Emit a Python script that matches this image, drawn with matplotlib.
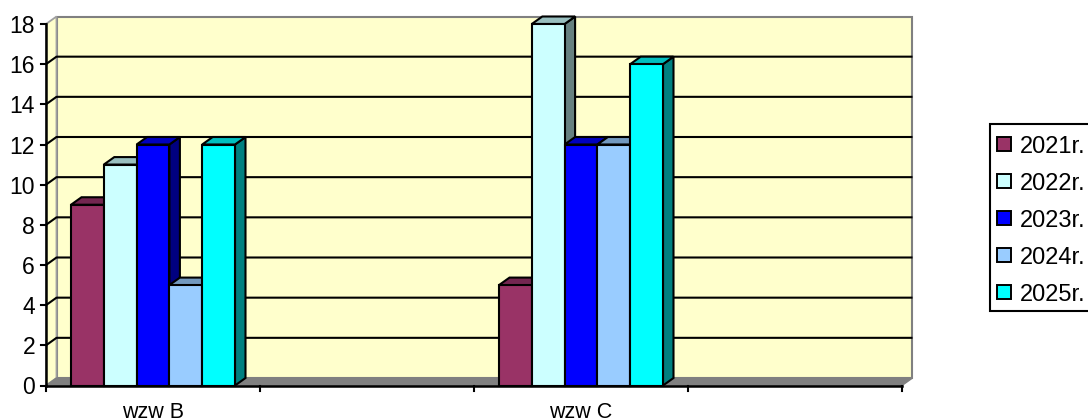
import matplotlib
matplotlib.use('Agg')
import matplotlib.pyplot as plt
from matplotlib.patches import Polygon, Rectangle

plt.rcParams['font.family'] = ['Liberation Sans', 'DejaVu Sans']

categories = ['wzw B', '', 'wzw C', '']
years = ['2021r.', '2022r.', '2023r.', '2024r.', '2025r.']
values = {
    '2021r.': [9, 0, 5, 0],
    '2022r.': [11, 0, 18, 0],
    '2023r.': [12, 0, 12, 0],
    '2024r.': [5, 0, 12, 0],
    '2025r.': [12, 0, 16, 0],
}
colors = ['#993366', '#CCFFFF', '#0000FF', '#99CCFF', '#00FFFF']
top_colors = ['#732650', '#99BFBF', '#0000BF', '#7399BF', '#00BFBF']
side_colors = ['#4D1A33', '#668080', '#000080', '#4D6680', '#008080']
yticks = list(range(0, 20, 2))

W, H = 1088, 419
fig = plt.figure(figsize=(W / 100, H / 100), dpi=100, facecolor='white')
# front plane of the fake 3d box, in pixels
left, right, bottom, top = 46, 902, 385.5, 24
ax = fig.add_axes([left / W, 1 - bottom / H, (right - left) / W, (bottom - top) / H])
ax.set_xlim(0, 4)
ax.set_ylim(0, 18)
ax.axis('off')

# pixel sizes in data units
px_x = 4 / (right - left)
px_y = 18 / (bottom - top)
dx = 10.5 * px_x
dy = 7.5 * px_y
bar_w = 32.8 * px_x
LW = 1.5


def poly(pts, fc, z, ec='black', lw=LW):
    ax.add_patch(Polygon(pts, closed=True, fc=fc, ec=ec, lw=lw, zorder=z,
                         clip_on=False, joinstyle='miter'))


# walls and floor
poly([(dx, dy), (4 + dx, dy), (4 + dx, 18 + dy), (dx, 18 + dy)], '#FFFFCC', 1, ec='#808080', lw=1.5)
poly([(0, 0), (dx, dy), (dx, 18 + dy), (0, 18)], '#FFFFCC', 1, ec='#A0A0A0', lw=1.3)
poly([(0, 0), (4, 0), (4 + dx, dy), (dx, dy)], '#808080', 2, ec='#808080', lw=1)

for t in yticks[1:-1]:
    ax.plot([0, dx, 4 + dx], [t, t + dy, t + dy], color='black', lw=LW, zorder=2,
            clip_on=False, solid_capstyle='butt')

# axes lines and ticks
ax.plot([0, 0], [0, 18], color='black', lw=1.8, zorder=5, clip_on=False)
ax.plot([0, 4], [0, 0], color='black', lw=1.8, zorder=5, clip_on=False)
for t in yticks:
    ax.plot([-5 * px_x, 0], [t, t], color='black', lw=1.5, zorder=5, clip_on=False)
    ax.text(-11 * px_x, t, str(t), ha='right', va='center_baseline', fontsize=16.5, color='black')
for i in range(5):
    ax.plot([i, i], [0, -5 * px_y], color='black', lw=1.5, zorder=5, clip_on=False)
for i, c in enumerate(categories):
    if c:
        ax.text(i + 0.5, -32 * px_y, c, ha='center', va='baseline', fontsize=15.5, color='black')

# bars, back to front
for i in range(len(categories)):
    start = i + 0.5 - bar_w * len(years) / 2
    for j, y in enumerate(years):
        v = values[y][i]
        if v == 0:
            continue
        x0 = start + j * bar_w
        x1 = x0 + bar_w
        z = 10 + j * 0.1
        poly([(x1, 0), (x1 + dx, dy), (x1 + dx, v + dy), (x1, v)], side_colors[j], z)
        poly([(x0, v), (x1, v), (x1 + dx, v + dy), (x0 + dx, v + dy)], top_colors[j], z)
        poly([(x0, 0), (x1, 0), (x1, v), (x0, v)], colors[j], z)

# legend box runs off the right edge of the picture
fig.add_artist(Rectangle((990 / W, 1 - 310.5 / H), 110 / W, 186 / H, transform=fig.transFigure,
                         fc='white', ec='black', lw=1.5, clip_on=False))
for j, y in enumerate(years):
    py = 144 + j * 37.0
    fig.add_artist(Rectangle((997 / W, 1 - (py + 7) / H), 14 / W, 14 / H, transform=fig.transFigure,
                             fc=colors[j], ec='black', lw=1.4))
    fig.text(1020 / W, 1 - py / H, y, ha='left', va='center_baseline', fontsize=17, color='black')

fig.savefig('out.png', dpi=100)
